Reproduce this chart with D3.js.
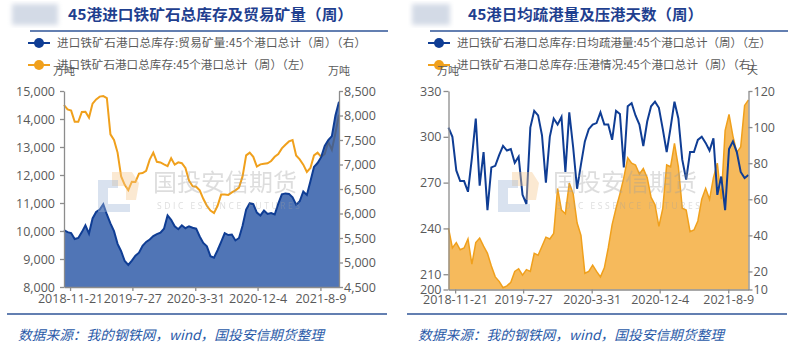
<!DOCTYPE html>
<html>
<head>
<meta charset="utf-8">
<script src="https://cdn.jsdelivr.net/npm/d3@7"></script>
<style>
body{margin:0;background:#fff;}
svg{display:block;}
.axis path,.axis line{stroke:#8c8c8c;stroke-width:1.3;}
.axis text{fill:#595959;font-size:12.5px;font-family:"Open Sans",sans-serif;}
.legend text{fill:#595959;font-size:11.5px;font-family:"Noto Sans CJK SC",sans-serif;}
</style>
</head>
<body>
<svg id="chart" width="793" height="352"></svg>
<script>
// x轴刻度（按数据序号定位）
var tickIdx = [1.7, 19.15, 36.75, 54.2, 71.8];
var tickLabels = ["2018-11-21","2019-7-27","2020-3-31","2020-12-4","2021-8-9"];

// 左图：45港进口铁矿石总库存（左轴，万吨）
var stockTotal = [14500,14340,14300,13900,13900,14250,14260,14050,14550,14700,
  14800,14820,14750,13450,13250,12800,11950,11650,11460,11760,
  11750,12050,12070,12150,12550,12800,12470,12450,12380,12320,
  12600,12370,12450,12420,12250,11800,11600,11580,11450,11150,
  10900,10730,10640,10900,11300,11300,11290,11380,11450,11550,
  11950,12700,12800,12650,12300,12380,12400,12420,12500,12650,
  12750,12950,13080,13200,13250,12700,12560,12370,12110,12250,
  12700,12800,12650,12750,13180,12900,13500,14150];
// 左图：贸易矿量（右轴，万吨）
var tradeOre = [5660,5620,5600,5480,5500,5620,5760,5590,5900,6030,
  6080,6190,5980,5800,5640,5380,5230,5030,4950,5040,
  5140,5200,5340,5420,5470,5540,5580,5610,5690,5960,
  5870,5740,5680,5760,5700,5740,5710,5690,5530,5400,
  5330,5130,5100,5250,5420,5600,5560,5570,5450,5500,
  5750,6080,6210,6190,6020,5960,6060,5990,6010,5980,
  6200,6390,6410,6400,6330,6180,6250,6450,6380,6660,
  6950,7030,7150,7380,7500,7580,8000,8280];
// 右图：日均疏港量（左轴，万吨）
var dailyEvac = [306,300,278,271,271,264,286,312,268,290,
  252,280,281,288,294,291,292,283,287,262,
  256,306,317,314,301,270,300,312,308,313,
  277,316,293,266,282,297,305,308,309,316,
  308,308,298,317,315,280,320,322,314,308,
  294,310,320,323,319,305,290,306,323,312,
  285,272,290,290,298,300,296,291,299,262,
  274,252,292,297,290,277,273,275];
// 右图：压港情况（右轴，天）
var portDays = [44,33,36,32,33,38,24,36,38.5,34,
  30,23,17,14.5,11,12,14,20,21.5,18,
  21,20,30,29,34,39,38,41,66,54,
  52,69,63,47,40,19,20,23.5,20,17,
  22,33,46,55,63,72,83,80,79,74,
  77,72,61,57,45,55,79,78,91,78,
  55,54,42,43,48,60,66,60,72,80,
  60,98,107,95,86,89,112,115];

var ticksA_L = [8000,9000,10000,11000,12000,13000,14000,15000];
var ticksA_R = [4500,5000,5500,6000,6500,7000,7500,8000,8500];
var ticksB_L = [200,210,240,270,300,330];
var ticksB_R = [10,20,40,60,80,100,120];

var titleA = "45港进口铁矿石总库存及贸易矿量（周）";
var titleB = "45港日均疏港量及压港天数（周）";
var legendA = ["进口铁矿石港口总库存:贸易矿量:45个港口总计（周）（右）","进口铁矿石港口总库存:45个港口总计（周）（左）"];
var legendB = ["进口铁矿石港口总库存:日均疏港量:45个港口总计（周）（左）","进口铁矿石港口总库存:压港情况:45个港口总计（周）（右）"];
var sourceText = "数据来源：我的钢铁网，wind，国投安信期货整理";

var blue = "#0f3d94", orange = "#f0a01c", frameBlue = "#2f5597";
var svg = d3.select("#chart");

var defs = svg.append("defs");
defs.append("filter").attr("id","blur").append("feGaussianBlur").attr("stdDeviation",2.5);

// 标题、图例、来源等外框
function drawFrame(ox, title, titleW, legend, legendW, logoW){
  svg.append("rect").attr("x", ox + 12).attr("y", 4).attr("width", logoW).attr("height", 21)
    .attr("fill", "#d3dae6").attr("filter","url(#blur)");
  svg.append("text").attr("x", ox + 68).attr("y", 20).text(title)
    .attr("textLength", titleW).attr("lengthAdjust", "spacingAndGlyphs")
    .attr("fill", "#1f3f8f").attr("font-size", "15px").attr("font-weight", "bold")
    .attr("font-family", '"Noto Sans CJK SC",sans-serif');
  svg.append("line").attr("x1", ox + 30).attr("x2", ox + 388).attr("y1", 31).attr("y2", 31)
    .attr("stroke", frameBlue).attr("stroke-width", 1.5);
  svg.append("line").attr("x1", ox + 7).attr("x2", ox + 387).attr("y1", 314).attr("y2", 314)
    .attr("stroke", frameBlue).attr("stroke-width", 1.5);
  svg.append("text").attr("x", ox + 18).attr("y", 340).text(sourceText)
    .attr("textLength", 306).attr("lengthAdjust", "spacingAndGlyphs")
    .attr("fill", "#2a5aa8").attr("font-size", "13.5px").attr("font-style", "italic")
    .attr("font-family", '"Noto Sans CJK SC",sans-serif');

  var lg = svg.append("g").attr("class", "legend");
  [blue, orange].forEach(function(c, i){
    var y = 43 + i * 22;
    lg.append("line").attr("x1", ox + 28).attr("x2", ox + 50).attr("y1", y).attr("y2", y)
      .attr("stroke", c).attr("stroke-width", 2);
    lg.append("circle").attr("cx", ox + 39).attr("cy", y).attr("r", 5).attr("fill", c);
    lg.append("text").attr("x", ox + 57).attr("y", y + 4).text(legend[i])
      .attr("textLength", legendW[i]).attr("lengthAdjust", "spacing");
  });
}

// 水印
function drawWatermark(ox){
  var g = svg.append("g").attr("transform", "translate(" + ox + ",0)");
  g.append("path").attr("d", "M112,172 L132,172 L139,183 L136,200 L126,200 L126,186 L112,186 Z")
    .attr("fill", "#f6c98e").attr("opacity", 0.4);
  g.append("path").attr("d", "M98,180 L118,180 L118,188 L108,188 L108,204 L130,204 L130,212 L98,212 Z")
    .attr("fill", "#9fb6d8").attr("opacity", 0.4);
  g.append("text").attr("x", 153).attr("y", 191).text("国投安信期货")
    .attr("font-size", "24px").attr("font-family", '"Noto Sans CJK SC",sans-serif')
    .attr("fill", "#a0a0a0").attr("opacity", 0.35);
  g.append("text").attr("x", 157).attr("y", 209).text("SDIC ESSENCE FUTURES")
    .attr("font-size", "8.5px").attr("textLength", 143).attr("font-family", '"Open Sans",sans-serif')
    .attr("fill", "#a0a0a0").attr("opacity", 0.35);
}

function styleAxis(g){
  g.attr("class", "axis");
}

function unitText(x, y, s){
  svg.append("text").attr("x", x).attr("y", y).text(s).attr("font-size", "11px").attr("fill", "#595959")
    .attr("font-family", '"Noto Sans CJK SC",sans-serif');
}

// ---------- 左图 ----------
drawFrame(0, titleA, 285, legendA, [309, 254], 46);
var xA = d3.scaleLinear().domain([0, stockTotal.length - 1]).range([64, 339]);
var yAL = d3.scaleLinear().domain([8000, 15000]).range([287, 91]);
var yAR = d3.scaleLinear().domain([4500, 8500]).range([287, 91]);

svg.append("path")
  .attr("d", d3.line().x(function(d,i){ return xA(i); }).y(function(d){ return yAL(d); })(stockTotal))
  .attr("fill", "none").attr("stroke", orange).attr("stroke-width", 2);

svg.append("path")
  .attr("d", d3.area().x(function(d,i){ return xA(i); }).y0(yAR(4500)).y1(function(d){ return yAR(d); })(tradeOre))
  .attr("fill", "#2452a4").attr("fill-opacity", 0.8);
svg.append("path")
  .attr("d", d3.line().x(function(d,i){ return xA(i); }).y(function(d){ return yAR(d); })(tradeOre))
  .attr("fill", "none").attr("stroke", blue).attr("stroke-width", 2);

svg.append("g").attr("transform", "translate(64,0)")
  .call(d3.axisLeft(yAL).tickValues(ticksA_L).tickFormat(d3.format(",")).tickSize(4).tickSizeOuter(0).tickPadding(5))
  .call(styleAxis);
svg.append("g").attr("transform", "translate(339,0)")
  .call(d3.axisRight(yAR).tickValues(ticksA_R).tickFormat(d3.format(",")).tickSize(4).tickSizeOuter(0).tickPadding(1))
  .call(styleAxis);
svg.append("g").attr("transform", "translate(0,287)")
  .call(d3.axisBottom(xA).tickValues(tickIdx).tickFormat(function(d,i){ return tickLabels[i]; }).tickSize(4).tickSizeOuter(0).tickPadding(3))
  .call(styleAxis);
unitText(53, 75, "万吨");
unitText(328, 75, "万吨");
drawWatermark(0);

// ---------- 右图 ----------
drawFrame(400, titleB, 235, legendB, [314, 305], 38);
var xB = d3.scaleLinear().domain([0, dailyEvac.length - 1]).range([448.5, 748.5]);
var yBL = d3.scaleLinear().domain([200, 330]).range([289.5, 91]);
var yBR = d3.scaleLinear().domain([10, 120]).range([289.5, 91]);

svg.append("path")
  .attr("d", d3.area().x(function(d,i){ return xB(i); }).y0(yBR(10)).y1(function(d){ return yBR(d); })(portDays))
  .attr("fill", "#f5b24a").attr("fill-opacity", 0.9);
svg.append("path")
  .attr("d", d3.line().x(function(d,i){ return xB(i); }).y(function(d){ return yBR(d); })(portDays))
  .attr("fill", "none").attr("stroke", orange).attr("stroke-width", 1.5);
svg.append("path")
  .attr("d", d3.line().x(function(d,i){ return xB(i); }).y(function(d){ return yBL(d); })(dailyEvac))
  .attr("fill", "none").attr("stroke", blue).attr("stroke-width", 2);

svg.append("g").attr("transform", "translate(448.5,0)")
  .call(d3.axisLeft(yBL).tickValues(ticksB_L).tickSize(5).tickSizeOuter(0).tickPadding(2))
  .call(styleAxis);
svg.append("g").attr("transform", "translate(748.5,0)")
  .call(d3.axisRight(yBR).tickValues(ticksB_R).tickSize(4).tickSizeOuter(0).tickPadding(1))
  .call(styleAxis);
svg.append("g").attr("transform", "translate(0,289.5)")
  .call(d3.axisBottom(xB).tickValues(tickIdx).tickFormat(function(d,i){ return tickLabels[i]; }).tickSize(4).tickSizeOuter(0).tickPadding(2))
  .call(styleAxis);
unitText(437, 75, "万吨");
unitText(747, 74, "天");
drawWatermark(400);
</script>
</body>
</html>
